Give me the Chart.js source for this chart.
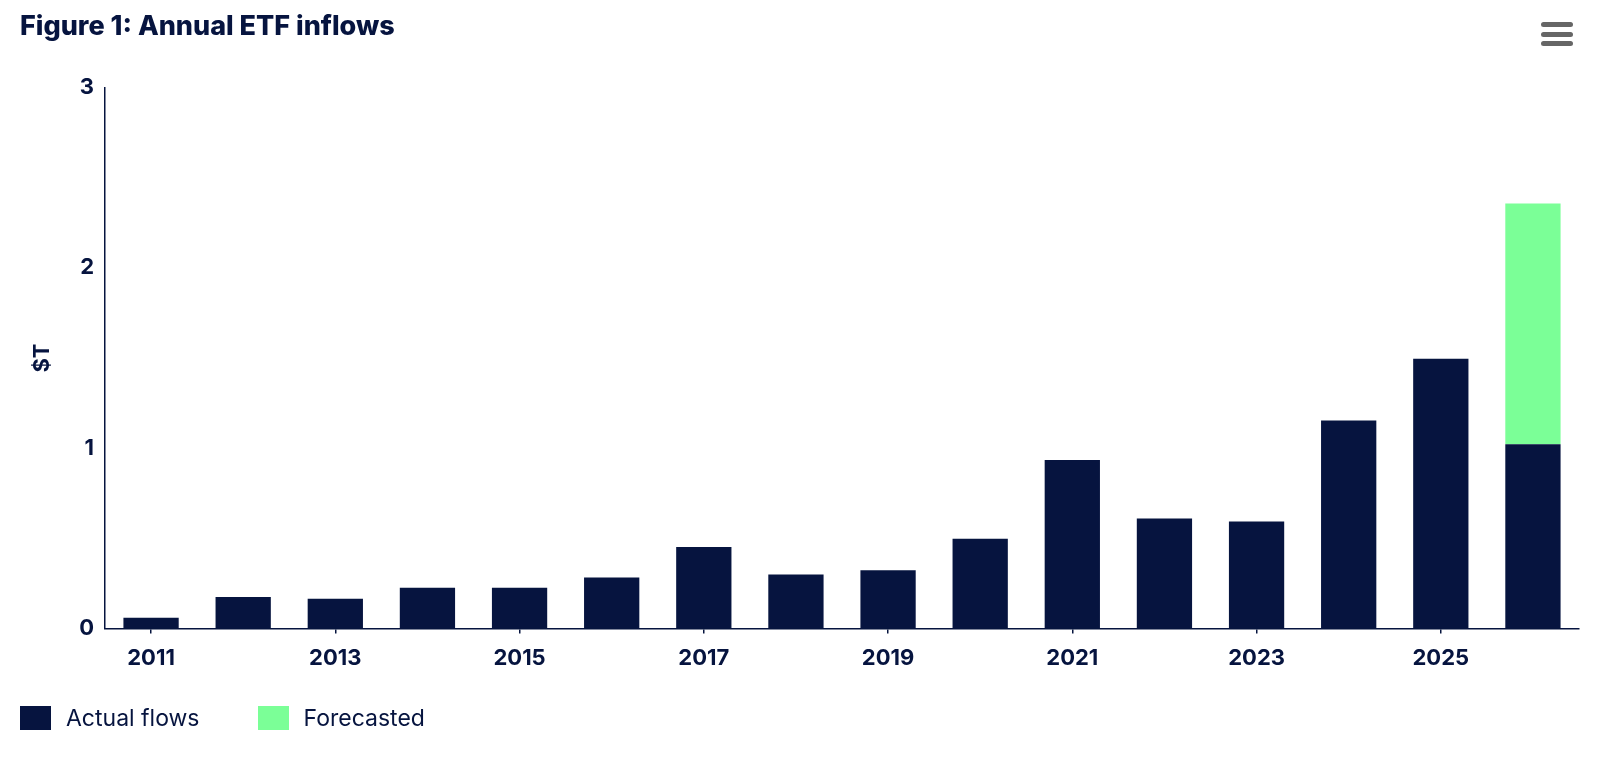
<!DOCTYPE html>
<html>
<head>
<meta charset="utf-8">
<script src="https://cdn.jsdelivr.net/npm/chart.js@4.4.1/dist/chart.umd.min.js"></script>
<style>
  html, body { margin: 0; padding: 0; background: #fff; }
  #wrap { position: relative; width: 1600px; height: 757px; font-family: Inter, sans-serif; }
  #menu { position: absolute; left: 1541px; top: 22px; width: 32px; }
  #menu div { height: 5px; background: #666; border-radius: 3px; margin-bottom: 4.7px; }
  #legend { position: absolute; left: 20px; top: 704px; display: flex; align-items: center; }
  .item { display: flex; align-items: center; margin-right: 58px; color: #06143f; font-size: 23px; }
  .box { width: 31px; height: 24px; margin-right: 15px; }
</style>
</head>
<body>
<div id="wrap">
  <canvas id="chart"></canvas>
  <div id="menu"><div></div><div></div><div></div></div>
  <div id="legend"></div>
</div>
<script>
const years = ['2011', '2012', '2013', '2014', '2015', '2016', '2017', '2018',
  '2019', '2020', '2021', '2022', '2023', '2024', '2025', '2026'];
const actualFlows = [0.06, 0.175, 0.165, 0.226, 0.226, 0.283, 0.453, 0.30,
  0.323, 0.498, 0.934, 0.611, 0.594, 1.154, 1.496, 1.022];
const forecasted = [null, null, null, null, null, null, null, null,
  null, null, null, null, null, null, null, 1.335];
const yTicks = [0, 1, 2, 3];

const navy = '#06143f';
const green = '#7bff97';

const chart = new Chart(document.getElementById('chart'), {
  type: 'bar',
  data: {
    labels: years,
    datasets: [
      { label: 'Actual flows', data: actualFlows, backgroundColor: navy,
        barPercentage: 0.6, categoryPercentage: 1 },
      { label: 'Forecasted', data: forecasted, backgroundColor: green,
        barPercentage: 0.6, categoryPercentage: 1 }
    ]
  },
  options: {
    responsive: true,
    maintainAspectRatio: false,
    animation: false,
    layout: { padding: { left: 20, right: 21, top: 0, bottom: 73 } },
    plugins: {
      legend: { display: false },
      tooltip: { enabled: false },
      title: {
        display: true,
        text: 'Figure 1: Annual ETF inflows',
        align: 'start',
        color: navy,
        font: { family: 'Inter', size: 27, weight: 800 },
        padding: { top: 11, bottom: 44 }
      }
    },
    scales: {
      x: {
        stacked: true,
        grid: { display: true, drawOnChartArea: false, drawTicks: true, tickLength: 5,
          color: navy, lineWidth: 1.5, offset: false },
        border: { display: true, color: navy, width: 1.5 },
        ticks: {
          autoSkip: false,
          maxRotation: 0,
          color: navy,
          padding: 12,
          font: { family: 'Inter', size: 22, weight: 'bold' },
          callback: (v, i) => (i % 2 === 0 ? years[i] : null)
        }
      },
      y: {
        stacked: true,
        min: 0,
        max: 3,
        afterFit: (scale) => { scale.width = 85; },
        afterBuildTicks: (scale) => { scale.ticks = yTicks.map(v => ({ value: v })); },
        grid: { display: false },
        border: { display: true, color: navy, width: 1.5 },
        ticks: {
          color: navy,
          padding: 3,
          font: { family: 'Inter', size: 22, weight: 'bold' }
        },
        title: {
          display: true,
          text: '$T',
          color: navy,
          padding: { top: 9, bottom: 4 },
          font: { family: 'Inter', size: 22, weight: 'bold' }
        }
      }
    }
  }
});

const legend = document.getElementById('legend');
chart.data.datasets.forEach(ds => {
  const item = document.createElement('div');
  item.className = 'item';
  const box = document.createElement('span');
  box.className = 'box';
  box.style.background = ds.backgroundColor;
  const txt = document.createElement('span');
  txt.textContent = ds.label;
  item.appendChild(box);
  item.appendChild(txt);
  legend.appendChild(item);
});
</script>
</body>
</html>
